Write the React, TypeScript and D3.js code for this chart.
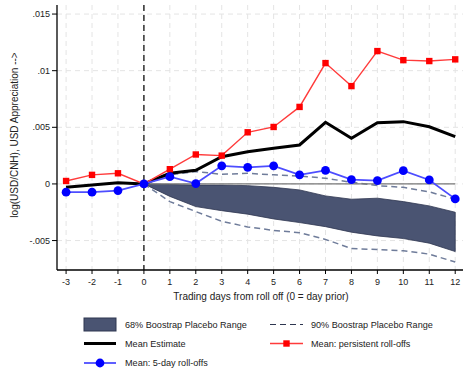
import React from 'react'
import * as d3 from 'd3'

const days = [-3, -2, -1, 0, 1, 2, 3, 4, 5, 6, 7, 8, 9, 10, 11, 12]
const meanEstimate = [-0.0003, -0.0001, 0.0001, 0, 0.00094, 0.0012, 0.0024, 0.00285, 0.00315, 0.00344, 0.00544, 0.00403, 0.0054, 0.0055, 0.00505, 0.00417]
const persistent = [0.00026, 0.0008, 0.00094, 0, 0.0013, 0.0026, 0.0025, 0.00456, 0.00503, 0.0068, 0.01067, 0.00864, 0.01173, 0.01093, 0.01085, 0.011]
const fiveDay = [-0.00073, -0.00073, -0.00059, 0, 0.00064, 0.00003, 0.0016, 0.00147, 0.0016, 0.0008, 0.0012, 0.00038, 0.0003, 0.00117, 0.00035, -0.00132]

const bandDays = [0, 1, 2, 3, 4, 5, 6, 7, 8, 9, 10, 11, 12]
const band68Upper = [0, -0.00005, -0.0001, -0.0001, -0.00015, -0.0003, -0.00053, -0.00106, -0.00135, -0.00126, -0.00156, -0.00194, -0.0025]
const band68Lower = [0, -0.0011, -0.002, -0.00236, -0.00267, -0.00309, -0.00341, -0.00377, -0.00426, -0.00459, -0.00482, -0.00523, -0.00597]
const band90Upper = [0, 0.0008, 0.0011, 0.00085, 0.00094, 0.0008, 0.0007, 0.0005, 0.00015, -0.00015, -0.0003, -0.0007, -0.00135]
const band90Lower = [0, -0.00156, -0.00244, -0.0033, -0.0038, -0.0041, -0.0043, -0.0049, -0.0057, -0.0058, -0.0059, -0.0062, -0.0069]

const yTicks = [-0.005, 0, 0.005, 0.01, 0.015]
const yTickLabels = ['-.005', '0', '.005', '.01', '.015']

const FONT = 'Liberation Sans, Arial, sans-serif'
const BAND = '#4a5472'
const BAND_EDGE = '#2e3650'
const DASH = '#6f7c9a'

export default function App() {
  const left = 57, right = 463, top = 5, bottom = 270
  const x = d3.scaleLinear().domain([-3.35, 12.3]).range([left, right])
  const y = d3.scaleLinear().domain([-0.0076, 0.0158]).range([bottom, top])

  const line = d3.line<[number, number]>().x(d => x(d[0])).y(d => y(d[1]))
  const area = d3.area<number>()
    .x((_, i) => x(bandDays[i]))
    .y0((_, i) => y(band68Lower[i]))
    .y1((_, i) => y(band68Upper[i]))

  const pts = (vals: number[], xs: number[]) => vals.map((v, i) => [xs[i], v] as [number, number])

  return (
    <svg width={463} height={368} style={{ position: 'absolute', left: 0, top: 0, background: '#fff' }} fontFamily={FONT}>
      {/* grid */}
      {days.map(d => (
        <line key={'gx' + d} x1={x(d)} x2={x(d)} y1={top} y2={bottom} stroke="#e4e4e4" strokeDasharray="5,4" />
      ))}
      {yTicks.map(t => (
        <line key={'gy' + t} x1={left} x2={right} y1={y(t)} y2={y(t)} stroke="#e4e4e4" strokeDasharray="5,4" />
      ))}

      {/* 68% band */}
      <path d={area(bandDays) || ''} fill={BAND} stroke={BAND_EDGE} strokeWidth={0.8} />
      {/* 90% dashed */}
      <path d={line(pts(band90Upper, bandDays)) || ''} fill="none" stroke={DASH} strokeWidth={1.5} strokeDasharray="6,4" />
      <path d={line(pts(band90Lower, bandDays)) || ''} fill="none" stroke={DASH} strokeWidth={1.5} strokeDasharray="6,4" />

      {/* zero line */}
      <line x1={x(0)} x2={x(12)} y1={y(0)} y2={y(0)} stroke="#777" strokeWidth={1.2} />

      {/* vertical line at 0 */}
      <line x1={x(0)} x2={x(0)} y1={top} y2={bottom} stroke="#111" strokeWidth={1.3} strokeDasharray="6,4" />

      {/* mean estimate */}
      <path d={line(pts(meanEstimate, days)) || ''} fill="none" stroke="#000" strokeWidth={3} />

      {/* persistent */}
      <path d={line(pts(persistent, days)) || ''} fill="none" stroke="#ff3b3b" strokeWidth={1.4} />
      {persistent.map((v, i) => (
        <rect key={'r' + i} x={x(days[i]) - 3.2} y={y(v) - 3.2} width={6.4} height={6.4} fill="#ff0000" />
      ))}

      {/* five-day */}
      <path d={line(pts(fiveDay, days)) || ''} fill="none" stroke="#4d4dff" strokeWidth={1.8} />
      {fiveDay.map((v, i) => (
        <circle key={'c' + i} cx={x(days[i])} cy={y(v)} r={4.4} fill="#0000ff" />
      ))}

      {/* axes */}
      <line x1={left} x2={left} y1={top} y2={bottom} stroke="#000" strokeWidth={1.3} />
      <line x1={left} x2={right} y1={bottom} y2={bottom} stroke="#000" strokeWidth={1.3} />
      {yTicks.map((t, i) => (
        <g key={'yt' + t}>
          <line x1={left - 5} x2={left} y1={y(t)} y2={y(t)} stroke="#000" />
          <text x={left - 7} y={y(t)} dy="0.33em" textAnchor="end" fontSize={9} fill="#222">{yTickLabels[i]}</text>
        </g>
      ))}
      {days.map(d => (
        <g key={'xt' + d}>
          <line x1={x(d)} x2={x(d)} y1={bottom} y2={bottom + 4} stroke="#000" />
          <text x={x(d)} y={bottom + 15} textAnchor="middle" fontSize={9} fill="#222">{d}</text>
        </g>
      ))}
      <text x={261} y={bottom + 30} textAnchor="middle" fontSize={10} fill="#222">Trading days from roll off (0 = day prior)</text>
      <text transform={`translate(18,135) rotate(-90)`} textAnchor="middle" fontSize={10} fill="#222">log(USD/CNH), USD Appreciation --&gt;</text>

      {/* legend */}
      <g fontSize={9.1} fill="#222">
        <rect x={84} y={318} width={32} height={13} fill={BAND} stroke={BAND_EDGE} strokeWidth={1} />
        <text x={125} y={324.5} dy="0.35em">68% Boostrap Placebo Range</text>
        <line x1={270} x2={303} y1={324.5} y2={324.5} stroke={BAND_EDGE} strokeWidth={1.2} strokeDasharray="6,4" />
        <text x={311} y={324.5} dy="0.35em">90% Boostrap Placebo Range</text>

        <line x1={84} x2={116} y1={343.5} y2={343.5} stroke="#000" strokeWidth={3} />
        <text x={125} y={343.5} dy="0.35em">Mean Estimate</text>
        <line x1={270} x2={303} y1={343.5} y2={343.5} stroke="#ff3b3b" strokeWidth={1.4} />
        <rect x={283.3} y={340.3} width={6.4} height={6.4} fill="#ff0000" />
        <text x={311} y={343.5} dy="0.35em">Mean: persistent roll-offs</text>

        <line x1={84} x2={116} y1={363} y2={363} stroke="#4d4dff" strokeWidth={1.8} />
        <circle cx={100} cy={363} r={4.4} fill="#0000ff" />
        <text x={125} y={363} dy="0.35em">Mean: 5-day roll-offs</text>
      </g>
    </svg>
  )
}
